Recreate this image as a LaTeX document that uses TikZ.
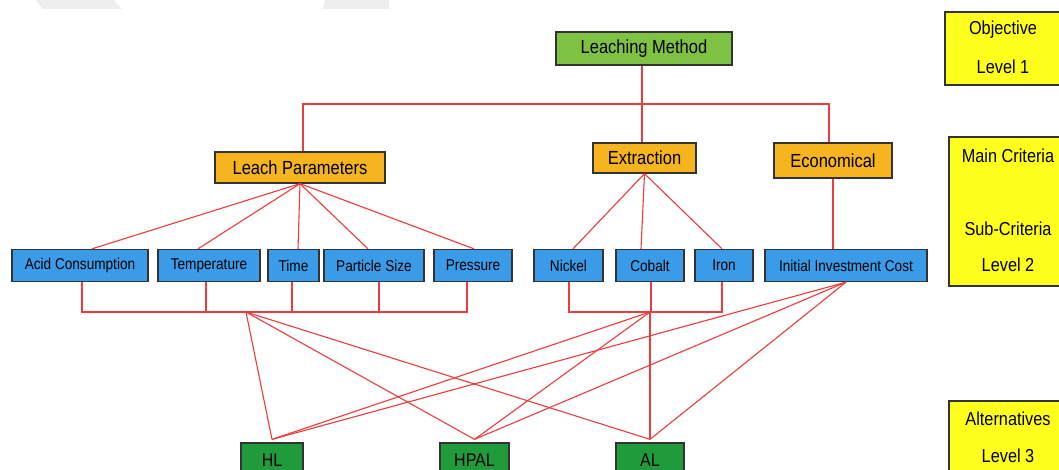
\documentclass[tikz,border=0pt]{standalone}
\usepackage{fontspec}
\setmainfont{Liberation Sans}
\definecolor{lmgreen}{HTML}{7DC243}
\definecolor{lporange}{HTML}{F6B41E}
\definecolor{subblue}{HTML}{3A9BE8}
\definecolor{altgreen}{HTML}{1F9B3B}
\definecolor{lvyellow}{HTML}{FFFF1E}
\definecolor{linkred}{HTML}{EE3B3B}
\definecolor{boxedge}{HTML}{333333}
\definecolor{wmgray}{HTML}{EEEEEE}
\newcommand{\vs}[1]{\scalebox{1}[1.15]{#1}}
\tikzset{
  box/.style={draw=boxedge, line width=1.3pt, inner sep=0pt, align=center},
  topbox/.style={box, fill=lmgreen, font=\fontsize{16.5}{18}\selectfont},
  critbox/.style={box, fill=lporange, font=\fontsize{16.5}{18}\selectfont},
  subbox/.style={box, fill=subblue, minimum height=32pt, font=\fontsize{13.6}{15}\selectfont},
  altbox/.style={box, fill=altgreen, minimum height=35pt, font=\fontsize{16}{18}\selectfont},
  lvbox/.style={box, fill=lvyellow},
  lvtext/.style={inner sep=0pt, font=\fontsize{16.3}{18}\selectfont},
  link/.style={draw=linkred, line width=1.1pt}
}
\begin{document}
\begin{tikzpicture}[x=1pt,y=-1pt]
\useasboundingbox (0,0) rectangle (1059,470);
\clip (0,0) rectangle (1059,470);
\fill[white] (0,0) rectangle (1059,470);
% faint watermark shapes at top
\fill[wmgray] (36,0) -- (114,0) -- (122,9) -- (43,9) -- cycle;
\fill[wmgray] (325,0) -- (389,0) -- (389,9) -- (323,9) -- cycle;

% level boxes (right)
\node[lvbox, minimum width=116pt, minimum height=73pt] (obj) at (1003,48.5) {};
\node[lvtext] (objt) at (1003,30) {\vs{Objective}};
\node[lvtext] (objl) at (1003,67) {\vs{Level 1}};
\node[lvbox, minimum width=112pt, minimum height=149pt] (crit) at (1005,211.5) {};
\node[lvtext] (critm) at (1008,156) {\vs{Main Criteria}};
\node[lvtext] (crits) at (1008,229) {\vs{Sub-Criteria}};
\node[lvtext] (critl) at (1008,265) {\vs{Level 2}};
\node[lvbox, minimum width=112pt, minimum height=79pt] (alt) at (1005,440.5) {};
\node[lvtext] (altt) at (1008,419) {\vs{Alternatives}};
\node[lvtext] (altl) at (1008,456) {\vs{Level 3}};

% connectors (drawn first, boxes on top)
\coordinate (hb) at (642,104);
\coordinate (lpj) at (246,312);
\coordinate (exj) at (650,312);

% main nodes
\node[topbox, minimum width=176pt, minimum height=33pt] (lm) at (644,48.5) {\vs{Leaching Method}};
\node[critbox, minimum width=170pt, minimum height=31pt] (lp) at (300,167.5) {\vs{Leach Parameters}};
\node[critbox, minimum width=103pt, minimum height=30pt] (ext) at (644.5,158) {\vs{Extraction}};
\node[critbox, minimum width=118pt, minimum height=35pt] (ecn) at (833,160.5) {\vs{Economical}};

\node[subbox, minimum width=136pt] (ac) at (80,265.5) {\vs{Acid Consumption}};
\node[subbox, minimum width=102pt] (tp) at (209,265.5) {\vs{Temperature}};
\node[subbox, minimum width=51pt] (tm) at (293.5,265.5) {\vs{Time}};
\node[subbox, minimum width=100pt] (ps) at (374,265.5) {\vs{Particle Size}};
\node[subbox, minimum width=78pt] (pr) at (473,265.5) {\vs{Pressure}};
\node[subbox, minimum width=69pt] (ni) at (568.5,265.5) {\vs{Nickel}};
\node[subbox, minimum width=68pt] (co) at (650,265.5) {\vs{Cobalt}};
\node[subbox, minimum width=58pt] (fe) at (724,265.5) {\vs{Iron}};
\node[subbox, minimum width=162pt] (iic) at (846,265.5) {\vs{Initial Investment Cost}};

\node[altbox, minimum width=62pt] (hl) at (272,460.5) {\vs{HL}};
\node[altbox, minimum width=69pt] (hp) at (474.5,460.5) {\vs{HPAL}};
\node[altbox, minimum width=68pt] (al) at (650,460.5) {\vs{AL}};

\begin{scope}[on background layer/.style={}]
% level 1 to main criteria
\draw[link] (lm.south -| hb) -- (ext.north -| hb);
\draw[link] ([xshift=3pt]lp.north) |- (hb) -| ([xshift=-4pt]ecn.north);
% leach parameters fan
\foreach \n/\s in {ac/12, tp/-11, tm/4.5, ps/-6, pr/1}
  \draw[link] (lp.south) -- ([xshift=\s pt]\n.north);
% extraction fan
\foreach \n/\s in {ni/4.5, co/-9, fe/-2}
  \draw[link] (ext.south) -- ([xshift=\s pt]\n.north);
% economical
\draw[link] (ecn.south) -- (ecn.south |- iic.north);
% leach parameters bus
\draw[link] ([xshift=2pt]ac.south) |- ([xshift=-6pt]pr.south |- lpj) -- ([xshift=-6pt]pr.south);
\foreach \n/\s in {tp/-3, tm/-1.5, ps/5}
  \draw[link] ([xshift=\s pt]\n.south) -- ([xshift=\s pt]\n.south |- lpj);
% extraction bus
\draw[link] ([xshift=0.5pt]ni.south) |- ([xshift=-2pt]fe.south |- exj) -- ([xshift=-2pt]fe.south);
\draw[link] ([xshift=1pt]co.south) -- ([xshift=1pt]co.south |- exj);
% to alternatives
\foreach \a in {hl,hp,al} {
  \draw[link] (lpj) -- ([yshift=3pt]\a.north);
  \draw[link] (exj) -- ([yshift=3pt]\a.north);
  \draw[link] (iic.south) -- ([yshift=3pt]\a.north);
}
\end{scope}
\end{tikzpicture}
\end{document}
